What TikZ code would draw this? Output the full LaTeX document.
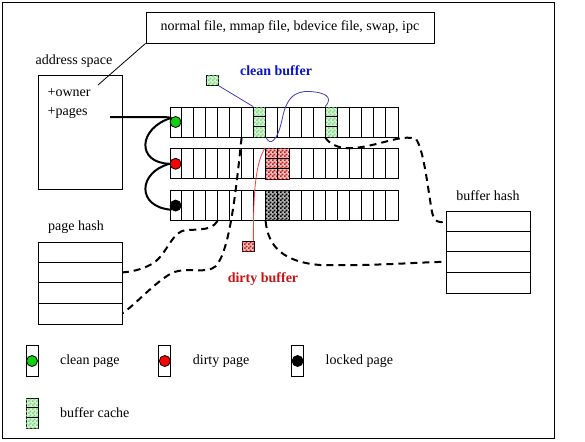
\documentclass[tikz,border=0pt]{standalone}
\usepackage{fontspec}
\setmainfont{Liberation Serif}
\usetikzlibrary{patterns,positioning}
\definecolor{CacheGreen}{HTML}{7ED67E}
\definecolor{PageGreen}{HTML}{10D010}
\definecolor{DirtyRed}{HTML}{C81414}
\definecolor{LinkBlue}{HTML}{3C3CC8}
\definecolor{LabelBlue}{HTML}{0A14C0}
\pgfdeclarepatternformonly{finechecks}{\pgfpointorigin}{\pgfqpoint{4pt}{4pt}}{\pgfqpoint{4pt}{4pt}}{%
  \pgfpathrectangle{\pgfpointorigin}{\pgfqpoint{2pt}{2pt}}%
  \pgfpathrectangle{\pgfqpoint{2pt}{2pt}}{\pgfqpoint{2pt}{2pt}}%
  \pgfusepath{fill}}

\begin{document}
\begin{tikzpicture}[
  x=1pt, y=-1pt,
  font=\fontsize{14}{16}\selectfont,
  line width=0.8pt,
  box/.style={draw, fill=white, inner sep=0pt},
  pagerow/.style={box, minimum width=228pt, minimum height=30pt},
  hashbox/.style={box, minimum width=84pt, minimum height=82pt},
  bufcol/.style={box, minimum width=12pt, minimum height=30pt, fill=CacheGreen!30,
    postaction={pattern=finechecks, pattern color=CacheGreen}},
  dirtyfill/.style={box, fill=DirtyRed!25, postaction={pattern=finechecks, pattern color=DirtyRed}},
  lockedfill/.style={box, fill=black!30, postaction={pattern=finechecks, pattern color=black}},
  pagedot/.style={circle, draw, inner sep=0pt, minimum size=11pt},
  legcell/.style={box, minimum width=12pt, minimum height=31pt},
  pagelink/.style={line width=2pt},
  hashlink/.style={line width=2pt, dash pattern=on 7pt off 5pt},
  tag/.style={font=\fontsize{14}{16}\selectfont\bfseries}
]
\useasboundingbox (0,0) rectangle (585,441);
\draw (2,2) rectangle (554,438);

% sources and address space
\node[box, minimum width=288pt, minimum height=31pt] (srcs) at (290,27.5) {normal file, mmap file, bdevice file, swap, ipc};
\node[box, minimum width=84pt, minimum height=114pt] (aspace) at (80,132) {};
\node (aslabel) at (74,61) {address space};
\node[anchor=west] (owner) at (44,93) {+owner};
\node[anchor=west] (pages) at (44,113) {+pages};
\coordinate (ownerpt) at (98,85);
\coordinate (pagespt) at (110,117);
\draw (srcs.south west) -- (ownerpt);

% page rows
\node[pagerow] (row1) at (284,122) {};
\node[pagerow, below=11pt of row1] (row2) {};
\node[pagerow, below=11pt of row2] (row3) {};
\node[bufcol] (gcol1) at ([xshift=90pt]row1.west) {};
\node[bufcol] (gcol2) at ([xshift=162pt]row1.west) {};
\node[dirtyfill, minimum width=24pt, minimum height=31pt] (dirty) at ([xshift=108pt]row2.west) {};
\node[lockedfill, minimum width=24pt, minimum height=30pt] (locked) at ([xshift=108pt]row3.west) {};
\foreach \r in {row1,row2,row3}
  \foreach \i in {1,...,18}
    \draw ([xshift=\i*12pt]\r.north west) -- ([xshift=\i*12pt]\r.south west);
\foreach \k in {1,2} {
  \draw ([yshift=-\k*10pt]gcol1.north west) -- ([yshift=-\k*10pt]gcol1.north east);
  \draw ([yshift=-\k*10pt]gcol2.north west) -- ([yshift=-\k*10pt]gcol2.north east);
  \draw ([yshift=-\k*10.33pt]dirty.north west) -- ([yshift=-\k*10.33pt]dirty.north east);
}
\node[pagedot, fill=PageGreen] (pg1) at ([xshift=6pt]row1.west) {};
\node[pagedot, fill=red] (pg2) at ([xshift=6pt]row2.west) {};
\node[pagedot, fill=black] (pg3) at ([xshift=6pt]row3.west) {};

% page list
\draw[pagelink] (pagespt) -- (158,117) .. controls (165,117) and (168,117) .. (pg1.north west);
\draw[pagelink] (pg1.north west) .. controls (138,128) and (136,163) .. (pg2.west);
\draw[pagelink] (pg2.west) .. controls (138,172) and (136,207) .. (pg3.south west);

% buffers
\node[bufcol, minimum height=10pt] (cbsq) at (212.5,80.5) {};
\node[dirtyfill, minimum width=12pt, minimum height=10pt] (dsq) at (248,246.5) {};
\draw[LinkBlue] (cbsq.south east) -- (gcol1.north west);
\draw[LinkBlue] (gcol1.south east) .. controls (270,146) and (277,142) .. (282,120)
  .. controls (287,92) and (300,90) .. (315,92) .. controls (330,94) and (331,100) .. (gcol2.north west);
\draw[red!75!white] (dirty.north west) .. controls (257,160) and (253,185) .. ([xshift=-1pt]dsq.north east);
\node[tag, text=DirtyRed] (dirtylbl) at (263,279) {dirty buffer};
\node[tag, text=LabelBlue] (cleanlbl) at (276,71) {clean buffer};

% hash tables
\node[hashbox] (phash) at (80,283) {};
\node[hashbox] (bhash) at (488,252) {};
\node (phlabel) at (76,227) {page hash};
\node (bhlabel) at (488,196) {buffer hash};
\foreach \h in {phash,bhash}
  \foreach \k in {1,2,3}
    \draw ([yshift=-\k*20.5pt]\h.north west) -- ([yshift=-\k*20.5pt]\h.north east);
\coordinate (ph2) at ([yshift=-30.75pt]phash.north east);
\coordinate (ph4) at ([yshift=-71.75pt]phash.north east);
\coordinate (bh1) at ([yshift=-10.25pt]bhash.north west);
\coordinate (bh3) at ([yshift=-51.25pt]bhash.north west);
\draw[hashlink] ([xshift=72pt]row1.south west) .. controls (236,190) and (230,250) .. (216,266)
  .. controls (206,275) and (188,266) .. (172,273) .. controls (155,282) and (135,305) .. (ph4);
\draw[hashlink] ([xshift=48pt]row3.south west) .. controls (210,233) and (192,228) .. (182,231)
  .. controls (170,236) and (165,258) .. (150,265) .. controls (140,270) and (130,272) .. (ph2);
\draw[hashlink] ([xshift=96pt]row3.south west) .. controls (268,248) and (285,262) .. (320,265)
  .. controls (380,266) and (420,262) .. (bh3);
\draw[hashlink] (gcol2.south west) .. controls (334,150) and (350,150) .. (372,145)
  .. controls (390,141) and (405,135) .. (416,139) .. controls (424,150) and (428,190) .. (432,212)
  .. controls (434,222) and (440,224) .. (bh1);

% legend
\node[legcell] (lgclean) at (32,361) {};
\node[legcell, right=120pt of lgclean] (lgdirty) {};
\node[legcell, right=120pt of lgdirty] (lglocked) {};
\node[pagedot, fill=PageGreen] (lgcleandot) at (lgclean) {};
\node[pagedot, fill=red] (lgdirtydot) at (lgdirty) {};
\node[pagedot, fill=black] (lglockeddot) at (lglocked) {};
\node[right=18pt of lgclean] (lgcleantxt) {clean page};
\node[right=18pt of lgdirty] (lgdirtytxt) {dirty page};
\node[right=18pt of lglocked] (lglockedtxt) {locked page};
\node[bufcol] (lgbuf) at (32,413) {};
\foreach \k in {1,2}
  \draw ([yshift=-\k*10pt]lgbuf.north west) -- ([yshift=-\k*10pt]lgbuf.north east);
\node[right=18pt of lgbuf] (lgbuftxt) {buffer cache};
\end{tikzpicture}
\end{document}
